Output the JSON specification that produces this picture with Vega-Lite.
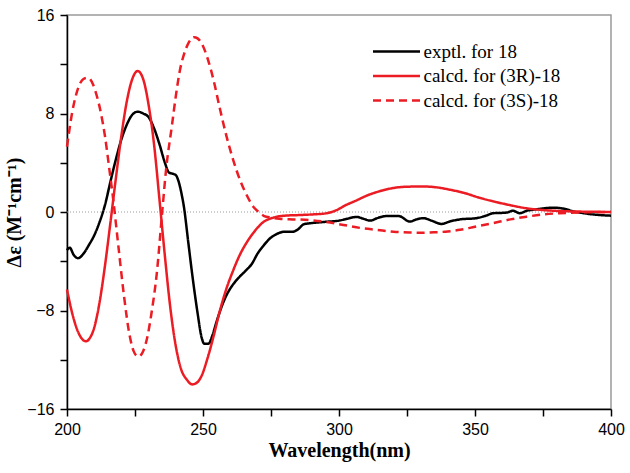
{
  "$schema": "https://vega.github.io/schema/vega-lite/v6.json",
  "autosize": "none",
  "width": 544,
  "height": 394,
  "padding": {"left": 67, "top": 15, "right": 19, "bottom": 64},
  "background": "white",
  "config": {
    "view": {"stroke": "#9a9a9a", "strokeWidth": 1.5},
    "axis": {"grid": false, "domainColor": "black", "domainWidth": 1.5, "tickColor": "black", "tickWidth": 1.5, "labelFont": "Liberation Sans", "labelFontSize": 16, "labelColor": "black", "titleFont": "Liberation Serif", "titleFontSize": 20, "titleFontWeight": "bold", "titleColor": "black", "labelOverlap": false, "labelFlush": false}
  },
  "datasets": {
    "curves": [
      {"series": "exptl. for 18", "wavelength": 200, "delta": -3.1},
      {"series": "exptl. for 18", "wavelength": 201, "delta": -2.9},
      {"series": "exptl. for 18", "wavelength": 202.5, "delta": -3.5},
      {"series": "exptl. for 18", "wavelength": 204, "delta": -3.75},
      {"series": "exptl. for 18", "wavelength": 206, "delta": -3.4},
      {"series": "exptl. for 18", "wavelength": 208, "delta": -2.7},
      {"series": "exptl. for 18", "wavelength": 210, "delta": -1.9},
      {"series": "exptl. for 18", "wavelength": 212, "delta": -0.8},
      {"series": "exptl. for 18", "wavelength": 214, "delta": 0.6},
      {"series": "exptl. for 18", "wavelength": 216, "delta": 2.5},
      {"series": "exptl. for 18", "wavelength": 218, "delta": 4.3},
      {"series": "exptl. for 18", "wavelength": 220, "delta": 5.9},
      {"series": "exptl. for 18", "wavelength": 222, "delta": 7.1},
      {"series": "exptl. for 18", "wavelength": 224, "delta": 7.9},
      {"series": "exptl. for 18", "wavelength": 226, "delta": 8.15},
      {"series": "exptl. for 18", "wavelength": 228, "delta": 8.0},
      {"series": "exptl. for 18", "wavelength": 230, "delta": 7.7},
      {"series": "exptl. for 18", "wavelength": 232, "delta": 6.8},
      {"series": "exptl. for 18", "wavelength": 234, "delta": 5.5},
      {"series": "exptl. for 18", "wavelength": 236, "delta": 4.0},
      {"series": "exptl. for 18", "wavelength": 237.5, "delta": 3.2},
      {"series": "exptl. for 18", "wavelength": 239, "delta": 3.1},
      {"series": "exptl. for 18", "wavelength": 240, "delta": 3.0},
      {"series": "exptl. for 18", "wavelength": 241, "delta": 2.5},
      {"series": "exptl. for 18", "wavelength": 242, "delta": 1.6},
      {"series": "exptl. for 18", "wavelength": 243, "delta": 0.4},
      {"series": "exptl. for 18", "wavelength": 244.5, "delta": -2.3},
      {"series": "exptl. for 18", "wavelength": 246, "delta": -5.0},
      {"series": "exptl. for 18", "wavelength": 248, "delta": -8.2},
      {"series": "exptl. for 18", "wavelength": 249.5, "delta": -10.2},
      {"series": "exptl. for 18", "wavelength": 250.5, "delta": -10.7},
      {"series": "exptl. for 18", "wavelength": 252, "delta": -10.7},
      {"series": "exptl. for 18", "wavelength": 253.5, "delta": -10.0},
      {"series": "exptl. for 18", "wavelength": 255, "delta": -8.9},
      {"series": "exptl. for 18", "wavelength": 257, "delta": -7.6},
      {"series": "exptl. for 18", "wavelength": 259, "delta": -6.6},
      {"series": "exptl. for 18", "wavelength": 261, "delta": -5.9},
      {"series": "exptl. for 18", "wavelength": 263.5, "delta": -5.25},
      {"series": "exptl. for 18", "wavelength": 266, "delta": -4.7},
      {"series": "exptl. for 18", "wavelength": 268, "delta": -4.2},
      {"series": "exptl. for 18", "wavelength": 270, "delta": -3.4},
      {"series": "exptl. for 18", "wavelength": 272, "delta": -2.8},
      {"series": "exptl. for 18", "wavelength": 274.6, "delta": -2.15},
      {"series": "exptl. for 18", "wavelength": 277, "delta": -1.8},
      {"series": "exptl. for 18", "wavelength": 280, "delta": -1.6},
      {"series": "exptl. for 18", "wavelength": 283, "delta": -1.6},
      {"series": "exptl. for 18", "wavelength": 285, "delta": -1.4},
      {"series": "exptl. for 18", "wavelength": 287, "delta": -1.0},
      {"series": "exptl. for 18", "wavelength": 290, "delta": -0.9},
      {"series": "exptl. for 18", "wavelength": 295, "delta": -0.8},
      {"series": "exptl. for 18", "wavelength": 300, "delta": -0.7},
      {"series": "exptl. for 18", "wavelength": 303, "delta": -0.55},
      {"series": "exptl. for 18", "wavelength": 306.5, "delta": -0.4},
      {"series": "exptl. for 18", "wavelength": 309, "delta": -0.55},
      {"series": "exptl. for 18", "wavelength": 311.5, "delta": -0.7},
      {"series": "exptl. for 18", "wavelength": 314, "delta": -0.5},
      {"series": "exptl. for 18", "wavelength": 317.5, "delta": -0.33},
      {"series": "exptl. for 18", "wavelength": 322, "delta": -0.33},
      {"series": "exptl. for 18", "wavelength": 326, "delta": -0.78},
      {"series": "exptl. for 18", "wavelength": 328.5, "delta": -0.6},
      {"series": "exptl. for 18", "wavelength": 331, "delta": -0.5},
      {"series": "exptl. for 18", "wavelength": 334, "delta": -0.7},
      {"series": "exptl. for 18", "wavelength": 337.7, "delta": -0.97},
      {"series": "exptl. for 18", "wavelength": 341, "delta": -0.75},
      {"series": "exptl. for 18", "wavelength": 344.5, "delta": -0.6},
      {"series": "exptl. for 18", "wavelength": 350.5, "delta": -0.5},
      {"series": "exptl. for 18", "wavelength": 354, "delta": -0.3},
      {"series": "exptl. for 18", "wavelength": 356.7, "delta": -0.1},
      {"series": "exptl. for 18", "wavelength": 361.6, "delta": -0.05},
      {"series": "exptl. for 18", "wavelength": 364, "delta": 0.1},
      {"series": "exptl. for 18", "wavelength": 366.5, "delta": -0.1},
      {"series": "exptl. for 18", "wavelength": 369, "delta": 0.1},
      {"series": "exptl. for 18", "wavelength": 372.7, "delta": 0.22},
      {"series": "exptl. for 18", "wavelength": 378.8, "delta": 0.35},
      {"series": "exptl. for 18", "wavelength": 383.7, "delta": 0.22},
      {"series": "exptl. for 18", "wavelength": 386, "delta": 0.05},
      {"series": "exptl. for 18", "wavelength": 388.6, "delta": -0.05},
      {"series": "exptl. for 18", "wavelength": 393.5, "delta": -0.2},
      {"series": "exptl. for 18", "wavelength": 400, "delta": -0.3},

      {"series": "calcd. for (3R)-18", "wavelength": 200, "delta": -6.3},
      {"series": "calcd. for (3R)-18", "wavelength": 202, "delta": -8.3},
      {"series": "calcd. for (3R)-18", "wavelength": 204, "delta": -9.7},
      {"series": "calcd. for (3R)-18", "wavelength": 205.5, "delta": -10.3},
      {"series": "calcd. for (3R)-18", "wavelength": 207, "delta": -10.5},
      {"series": "calcd. for (3R)-18", "wavelength": 208.5, "delta": -10.2},
      {"series": "calcd. for (3R)-18", "wavelength": 210, "delta": -9.4},
      {"series": "calcd. for (3R)-18", "wavelength": 212, "delta": -7.3},
      {"series": "calcd. for (3R)-18", "wavelength": 214, "delta": -4.3},
      {"series": "calcd. for (3R)-18", "wavelength": 216, "delta": -0.8},
      {"series": "calcd. for (3R)-18", "wavelength": 218, "delta": 2.8},
      {"series": "calcd. for (3R)-18", "wavelength": 220, "delta": 6.2},
      {"series": "calcd. for (3R)-18", "wavelength": 222, "delta": 9.0},
      {"series": "calcd. for (3R)-18", "wavelength": 224, "delta": 10.8},
      {"series": "calcd. for (3R)-18", "wavelength": 226, "delta": 11.45},
      {"series": "calcd. for (3R)-18", "wavelength": 228, "delta": 10.8},
      {"series": "calcd. for (3R)-18", "wavelength": 230, "delta": 8.7},
      {"series": "calcd. for (3R)-18", "wavelength": 232, "delta": 5.5},
      {"series": "calcd. for (3R)-18", "wavelength": 234, "delta": 1.0},
      {"series": "calcd. for (3R)-18", "wavelength": 236, "delta": -3.6},
      {"series": "calcd. for (3R)-18", "wavelength": 238, "delta": -7.8},
      {"series": "calcd. for (3R)-18", "wavelength": 240, "delta": -10.9},
      {"series": "calcd. for (3R)-18", "wavelength": 242, "delta": -12.8},
      {"series": "calcd. for (3R)-18", "wavelength": 244, "delta": -13.6},
      {"series": "calcd. for (3R)-18", "wavelength": 246, "delta": -14.0},
      {"series": "calcd. for (3R)-18", "wavelength": 247.5, "delta": -13.9},
      {"series": "calcd. for (3R)-18", "wavelength": 249.5, "delta": -13.3},
      {"series": "calcd. for (3R)-18", "wavelength": 251.5, "delta": -12.0},
      {"series": "calcd. for (3R)-18", "wavelength": 254, "delta": -10.0},
      {"series": "calcd. for (3R)-18", "wavelength": 256, "delta": -8.2},
      {"series": "calcd. for (3R)-18", "wavelength": 258.5, "delta": -6.3},
      {"series": "calcd. for (3R)-18", "wavelength": 261, "delta": -4.8},
      {"series": "calcd. for (3R)-18", "wavelength": 263.5, "delta": -3.5},
      {"series": "calcd. for (3R)-18", "wavelength": 266, "delta": -2.5},
      {"series": "calcd. for (3R)-18", "wavelength": 268.5, "delta": -1.7},
      {"series": "calcd. for (3R)-18", "wavelength": 272, "delta": -0.85},
      {"series": "calcd. for (3R)-18", "wavelength": 276, "delta": -0.45},
      {"series": "calcd. for (3R)-18", "wavelength": 280, "delta": -0.3},
      {"series": "calcd. for (3R)-18", "wavelength": 285, "delta": -0.25},
      {"series": "calcd. for (3R)-18", "wavelength": 290, "delta": -0.2},
      {"series": "calcd. for (3R)-18", "wavelength": 295.5, "delta": -0.1},
      {"series": "calcd. for (3R)-18", "wavelength": 300, "delta": 0.25},
      {"series": "calcd. for (3R)-18", "wavelength": 302, "delta": 0.5},
      {"series": "calcd. for (3R)-18", "wavelength": 306, "delta": 0.9},
      {"series": "calcd. for (3R)-18", "wavelength": 311, "delta": 1.4},
      {"series": "calcd. for (3R)-18", "wavelength": 316, "delta": 1.75},
      {"series": "calcd. for (3R)-18", "wavelength": 320, "delta": 1.95},
      {"series": "calcd. for (3R)-18", "wavelength": 326, "delta": 2.06},
      {"series": "calcd. for (3R)-18", "wavelength": 331, "delta": 2.07},
      {"series": "calcd. for (3R)-18", "wavelength": 336, "delta": 2.0},
      {"series": "calcd. for (3R)-18", "wavelength": 341, "delta": 1.8},
      {"series": "calcd. for (3R)-18", "wavelength": 346, "delta": 1.55},
      {"series": "calcd. for (3R)-18", "wavelength": 351, "delta": 1.2},
      {"series": "calcd. for (3R)-18", "wavelength": 357, "delta": 0.85},
      {"series": "calcd. for (3R)-18", "wavelength": 363, "delta": 0.55},
      {"series": "calcd. for (3R)-18", "wavelength": 369, "delta": 0.3},
      {"series": "calcd. for (3R)-18", "wavelength": 375, "delta": 0.16},
      {"series": "calcd. for (3R)-18", "wavelength": 381, "delta": 0.08},
      {"series": "calcd. for (3R)-18", "wavelength": 387, "delta": 0.04},
      {"series": "calcd. for (3R)-18", "wavelength": 393, "delta": 0.02},
      {"series": "calcd. for (3R)-18", "wavelength": 400, "delta": 0.0},

      {"series": "calcd. for (3S)-18", "wavelength": 200, "delta": 5.3},
      {"series": "calcd. for (3S)-18", "wavelength": 202, "delta": 8.2},
      {"series": "calcd. for (3S)-18", "wavelength": 204, "delta": 10.0},
      {"series": "calcd. for (3S)-18", "wavelength": 206, "delta": 10.8},
      {"series": "calcd. for (3S)-18", "wavelength": 207.8, "delta": 10.9},
      {"series": "calcd. for (3S)-18", "wavelength": 209.5, "delta": 10.4},
      {"series": "calcd. for (3S)-18", "wavelength": 211, "delta": 9.4},
      {"series": "calcd. for (3S)-18", "wavelength": 212.5, "delta": 8.0},
      {"series": "calcd. for (3S)-18", "wavelength": 214, "delta": 6.1},
      {"series": "calcd. for (3S)-18", "wavelength": 215.5, "delta": 3.6},
      {"series": "calcd. for (3S)-18", "wavelength": 217, "delta": 1.0},
      {"series": "calcd. for (3S)-18", "wavelength": 219, "delta": -3.0},
      {"series": "calcd. for (3S)-18", "wavelength": 221, "delta": -6.9},
      {"series": "calcd. for (3S)-18", "wavelength": 223, "delta": -10.0},
      {"series": "calcd. for (3S)-18", "wavelength": 224.5, "delta": -11.3},
      {"series": "calcd. for (3S)-18", "wavelength": 226.2, "delta": -11.75},
      {"series": "calcd. for (3S)-18", "wavelength": 228, "delta": -11.3},
      {"series": "calcd. for (3S)-18", "wavelength": 229.5, "delta": -10.2},
      {"series": "calcd. for (3S)-18", "wavelength": 231, "delta": -8.3},
      {"series": "calcd. for (3S)-18", "wavelength": 233, "delta": -5.0},
      {"series": "calcd. for (3S)-18", "wavelength": 235, "delta": 0.0},
      {"series": "calcd. for (3S)-18", "wavelength": 236.5, "delta": 3.6},
      {"series": "calcd. for (3S)-18", "wavelength": 238.5, "delta": 6.9},
      {"series": "calcd. for (3S)-18", "wavelength": 240, "delta": 9.4},
      {"series": "calcd. for (3S)-18", "wavelength": 241.5, "delta": 11.5},
      {"series": "calcd. for (3S)-18", "wavelength": 243, "delta": 12.8},
      {"series": "calcd. for (3S)-18", "wavelength": 244.6, "delta": 13.7},
      {"series": "calcd. for (3S)-18", "wavelength": 246.7, "delta": 14.2},
      {"series": "calcd. for (3S)-18", "wavelength": 248, "delta": 14.1},
      {"series": "calcd. for (3S)-18", "wavelength": 249.5, "delta": 13.7},
      {"series": "calcd. for (3S)-18", "wavelength": 251.5, "delta": 12.6},
      {"series": "calcd. for (3S)-18", "wavelength": 254, "delta": 10.6},
      {"series": "calcd. for (3S)-18", "wavelength": 256, "delta": 8.6},
      {"series": "calcd. for (3S)-18", "wavelength": 258.7, "delta": 6.1},
      {"series": "calcd. for (3S)-18", "wavelength": 261, "delta": 4.3},
      {"series": "calcd. for (3S)-18", "wavelength": 263.6, "delta": 2.6},
      {"series": "calcd. for (3S)-18", "wavelength": 266, "delta": 1.4},
      {"series": "calcd. for (3S)-18", "wavelength": 268.5, "delta": 0.43},
      {"series": "calcd. for (3S)-18", "wavelength": 270.5, "delta": 0.0},
      {"series": "calcd. for (3S)-18", "wavelength": 272.5, "delta": -0.33},
      {"series": "calcd. for (3S)-18", "wavelength": 275, "delta": -0.45},
      {"series": "calcd. for (3S)-18", "wavelength": 278, "delta": -0.55},
      {"series": "calcd. for (3S)-18", "wavelength": 283, "delta": -0.6},
      {"series": "calcd. for (3S)-18", "wavelength": 289, "delta": -0.65},
      {"series": "calcd. for (3S)-18", "wavelength": 295, "delta": -0.8},
      {"series": "calcd. for (3S)-18", "wavelength": 301.6, "delta": -1.05},
      {"series": "calcd. for (3S)-18", "wavelength": 308, "delta": -1.3},
      {"series": "calcd. for (3S)-18", "wavelength": 314, "delta": -1.45},
      {"series": "calcd. for (3S)-18", "wavelength": 320, "delta": -1.6},
      {"series": "calcd. for (3S)-18", "wavelength": 326, "delta": -1.67},
      {"series": "calcd. for (3S)-18", "wavelength": 330, "delta": -1.68},
      {"series": "calcd. for (3S)-18", "wavelength": 335, "delta": -1.65},
      {"series": "calcd. for (3S)-18", "wavelength": 340, "delta": -1.58},
      {"series": "calcd. for (3S)-18", "wavelength": 344.5, "delta": -1.45},
      {"series": "calcd. for (3S)-18", "wavelength": 350, "delta": -1.2},
      {"series": "calcd. for (3S)-18", "wavelength": 356.7, "delta": -0.9},
      {"series": "calcd. for (3S)-18", "wavelength": 363, "delta": -0.6},
      {"series": "calcd. for (3S)-18", "wavelength": 369, "delta": -0.38},
      {"series": "calcd. for (3S)-18", "wavelength": 375, "delta": -0.2},
      {"series": "calcd. for (3S)-18", "wavelength": 381, "delta": -0.1},
      {"series": "calcd. for (3S)-18", "wavelength": 390, "delta": -0.03},
      {"series": "calcd. for (3S)-18", "wavelength": 400, "delta": 0.0}
    ],
    "zero": [{"level": 0}]
  },
  "layer": [
    {
      "data": {"name": "zero"},
      "mark": {"type": "rule", "color": "#9a9a9a", "strokeDash": [1, 2], "strokeWidth": 1},
      "encoding": {"y": {"field": "level", "type": "quantitative"}}
    },
    {
      "data": {"name": "curves"},
      "mark": {"type": "line", "strokeWidth": 2.5, "interpolate": "monotone"},
      "encoding": {
        "x": {
          "field": "wavelength", "type": "quantitative",
          "scale": {"domain": [200, 400], "nice": false, "zero": false},
          "axis": {
            "title": "Wavelength(nm)",
            "values": [200, 225, 250, 275, 300, 325, 350, 375, 400],
            "labelExpr": "datum.value % 50 === 0 ? datum.label : ''",
            "tickSize": 7, "labelPadding": 5, "titlePadding": 3,
            "encode": {"ticks": {"update": {"y2": {"signal": "datum.value % 50 === 0 ? 7 : 4"}}}}
          }
        },
        "y": {
          "field": "delta", "type": "quantitative",
          "scale": {"domain": [-16, 16], "nice": false, "zero": false},
          "axis": {
            "title": "Δε (M⁻¹cm⁻¹)",
            "values": [-16, -12, -8, -4, 0, 4, 8, 12, 16],
            "labelExpr": "datum.value % 8 === 0 ? datum.label : ''",
            "tickSize": 7, "labelPadding": 6, "titlePadding": 2,
            "encode": {"ticks": {"update": {"x2": {"signal": "datum.value % 8 === 0 ? -7 : -4"}}}}
          }
        },
        "color": {
          "field": "series", "type": "nominal",
          "scale": {"domain": ["exptl. for 18", "calcd. for (3R)-18", "calcd. for (3S)-18"], "range": ["#000000", "#ec1c24", "#ec1c24"]},
          "legend": {"orient": "none", "legendX": 304.5, "legendY": 25, "title": null, "symbolType": "stroke", "symbolSize": 2209, "symbolStrokeWidth": 2.5, "clipHeight": 23, "rowPadding": 1.5, "padding": 0, "labelFont": "Liberation Serif", "labelFontSize": 19, "labelColor": "black", "labelOffset": 2, "labelLimit": 300}
        },
        "strokeDash": {
          "field": "series", "type": "nominal",
          "scale": {"domain": ["exptl. for 18", "calcd. for (3R)-18", "calcd. for (3S)-18"], "range": [[1, 0], [1, 0], [8, 5]]},
          "legend": {"orient": "none", "legendX": 304.5, "legendY": 25, "title": null, "symbolType": "stroke", "symbolSize": 2209, "symbolStrokeWidth": 2.5, "clipHeight": 23, "rowPadding": 1.5, "padding": 0, "labelFont": "Liberation Serif", "labelFontSize": 19, "labelColor": "black", "labelOffset": 2, "labelLimit": 300}
        }
      }
    }
  ]
}
